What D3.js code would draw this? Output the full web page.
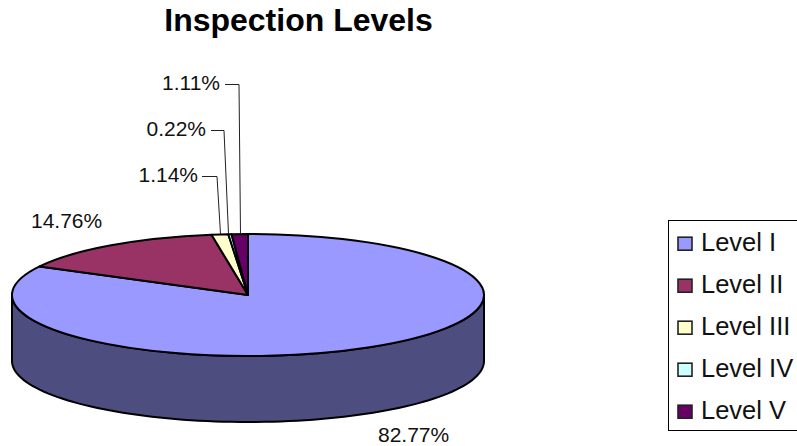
<!DOCTYPE html>
<html>
<head>
<meta charset="utf-8">
<script src="https://cdn.jsdelivr.net/npm/d3@7"></script>
<style>
  html, body { margin: 0; padding: 0; background: #fff; }
  svg { display: block; font-family: "Liberation Sans", Arial, sans-serif; }
  .edge { vector-effect: non-scaling-stroke; }
</style>
</head>
<body>
<div id="chart"></div>
<script>
var categories = ["Level I", "Level II", "Level III", "Level IV", "Level V"];
var shares = [82.77, 14.76, 1.14, 0.22, 1.11];
var shareLabels = ["82.77%", "14.76%", "1.14%", "0.22%", "1.11%"];
var colors = ["#9999ff", "#993366", "#ffffcc", "#ccffff", "#660066"];

var width = 797, height = 446;

// pie geometry
var cx = 248, cy = 295, rx = 236, ry = 61, depth = 66;

var svg = d3.select("#chart")
    .append("svg")
    .attr("width", width)
    .attr("height", height);

// title
svg.append("text")
    .attr("x", 298.5)
    .attr("y", 31)
    .attr("text-anchor", "middle")
    .style("font-size", "32px")
    .style("font-weight", "bold")
    .text("Inspection Levels");

// side wall of the disc, lower half only
var halfAngles = d3.range(90, 270.5, 2).map(function (d) { return d * Math.PI / 180; });
var rim = function (a, yOff) {
    return [cx + rx * Math.sin(a), cy + yOff - ry * Math.cos(a)];
};
var wall = halfAngles.map(function (a) { return rim(a, 0); })
    .concat(halfAngles.slice().reverse().map(function (a) { return rim(a, depth); }));

svg.append("path")
    .attr("d", d3.line()(wall) + "Z")
    .attr("fill", "#4d4d80")
    .attr("stroke", "#000")
    .attr("stroke-width", 2);

// top face, angles from d3.pie, squashed into an ellipse
var pie = d3.pie().sort(null).value(function (d) { return d; });
var arcs = pie(shares);
var arc = d3.arc().innerRadius(0).outerRadius(rx);

svg.append("g")
    .attr("transform", "translate(" + cx + "," + cy + ") scale(1," + (ry / rx) + ")")
    .selectAll("path")
    .data(arcs)
    .enter()
    .append("path")
    .attr("class", "edge")
    .attr("d", arc)
    .attr("fill", function (d, i) { return colors[i]; })
    .attr("stroke", "#000")
    .attr("stroke-width", 2)
    .attr("stroke-linejoin", "round");

// labels without leaders
svg.append("text").attr("x", 378).attr("y", 442)
    .style("font-size", "21px").style("fill", "#111").text(shareLabels[0]);
svg.append("text").attr("x", 31).attr("y", 228)
    .style("font-size", "21px").style("fill", "#111").text(shareLabels[1]);

// labels with leader lines: index, text end x, baseline y, line y, elbow x, end x on the rim
var leaders = [
    { i: 2, tx: 198, ty: 182, ly: 176.5, sx: 202, ex: 217, bx: 220.5 },
    { i: 3, tx: 206, ty: 136, ly: 130.5, sx: 211, ex: 224, bx: 228.5 },
    { i: 4, tx: 220, ty: 90, ly: 84.5, sx: 225, ex: 239, bx: 240.5 }
];
leaders.forEach(function (l) {
    svg.append("text")
        .attr("x", l.tx).attr("y", l.ty)
        .attr("text-anchor", "end")
        .style("font-size", "21px").style("fill", "#111")
        .text(shareLabels[l.i]);
    svg.append("path")
        .attr("d", d3.line()([[l.sx, l.ly], [l.ex, l.ly], [l.bx, 234]]))
        .attr("fill", "none")
        .attr("stroke", "#222")
        .attr("stroke-width", 1);
});

// legend
var legend = svg.append("g");
legend.append("rect")
    .attr("x", 668.5).attr("y", 220.5)
    .attr("width", 140).attr("height", 210)
    .attr("fill", "#fff")
    .attr("stroke", "#000")
    .attr("stroke-width", 1);

var legendY = d3.scalePoint().domain(categories).range([243.7, 411.7]);

categories.forEach(function (c, i) {
    legend.append("rect")
        .attr("x", 678).attr("y", legendY(c) - 6.5)
        .attr("width", 14).attr("height", 13)
        .attr("fill", colors[i])
        .attr("stroke", "#222")
        .attr("stroke-width", 1.6);
    legend.append("text")
        .attr("x", 701).attr("y", legendY(c) + 7.5)
        .style("font-size", "25.5px")
        .style("fill", "#111")
        .text(c);
});
</script>
</body>
</html>
